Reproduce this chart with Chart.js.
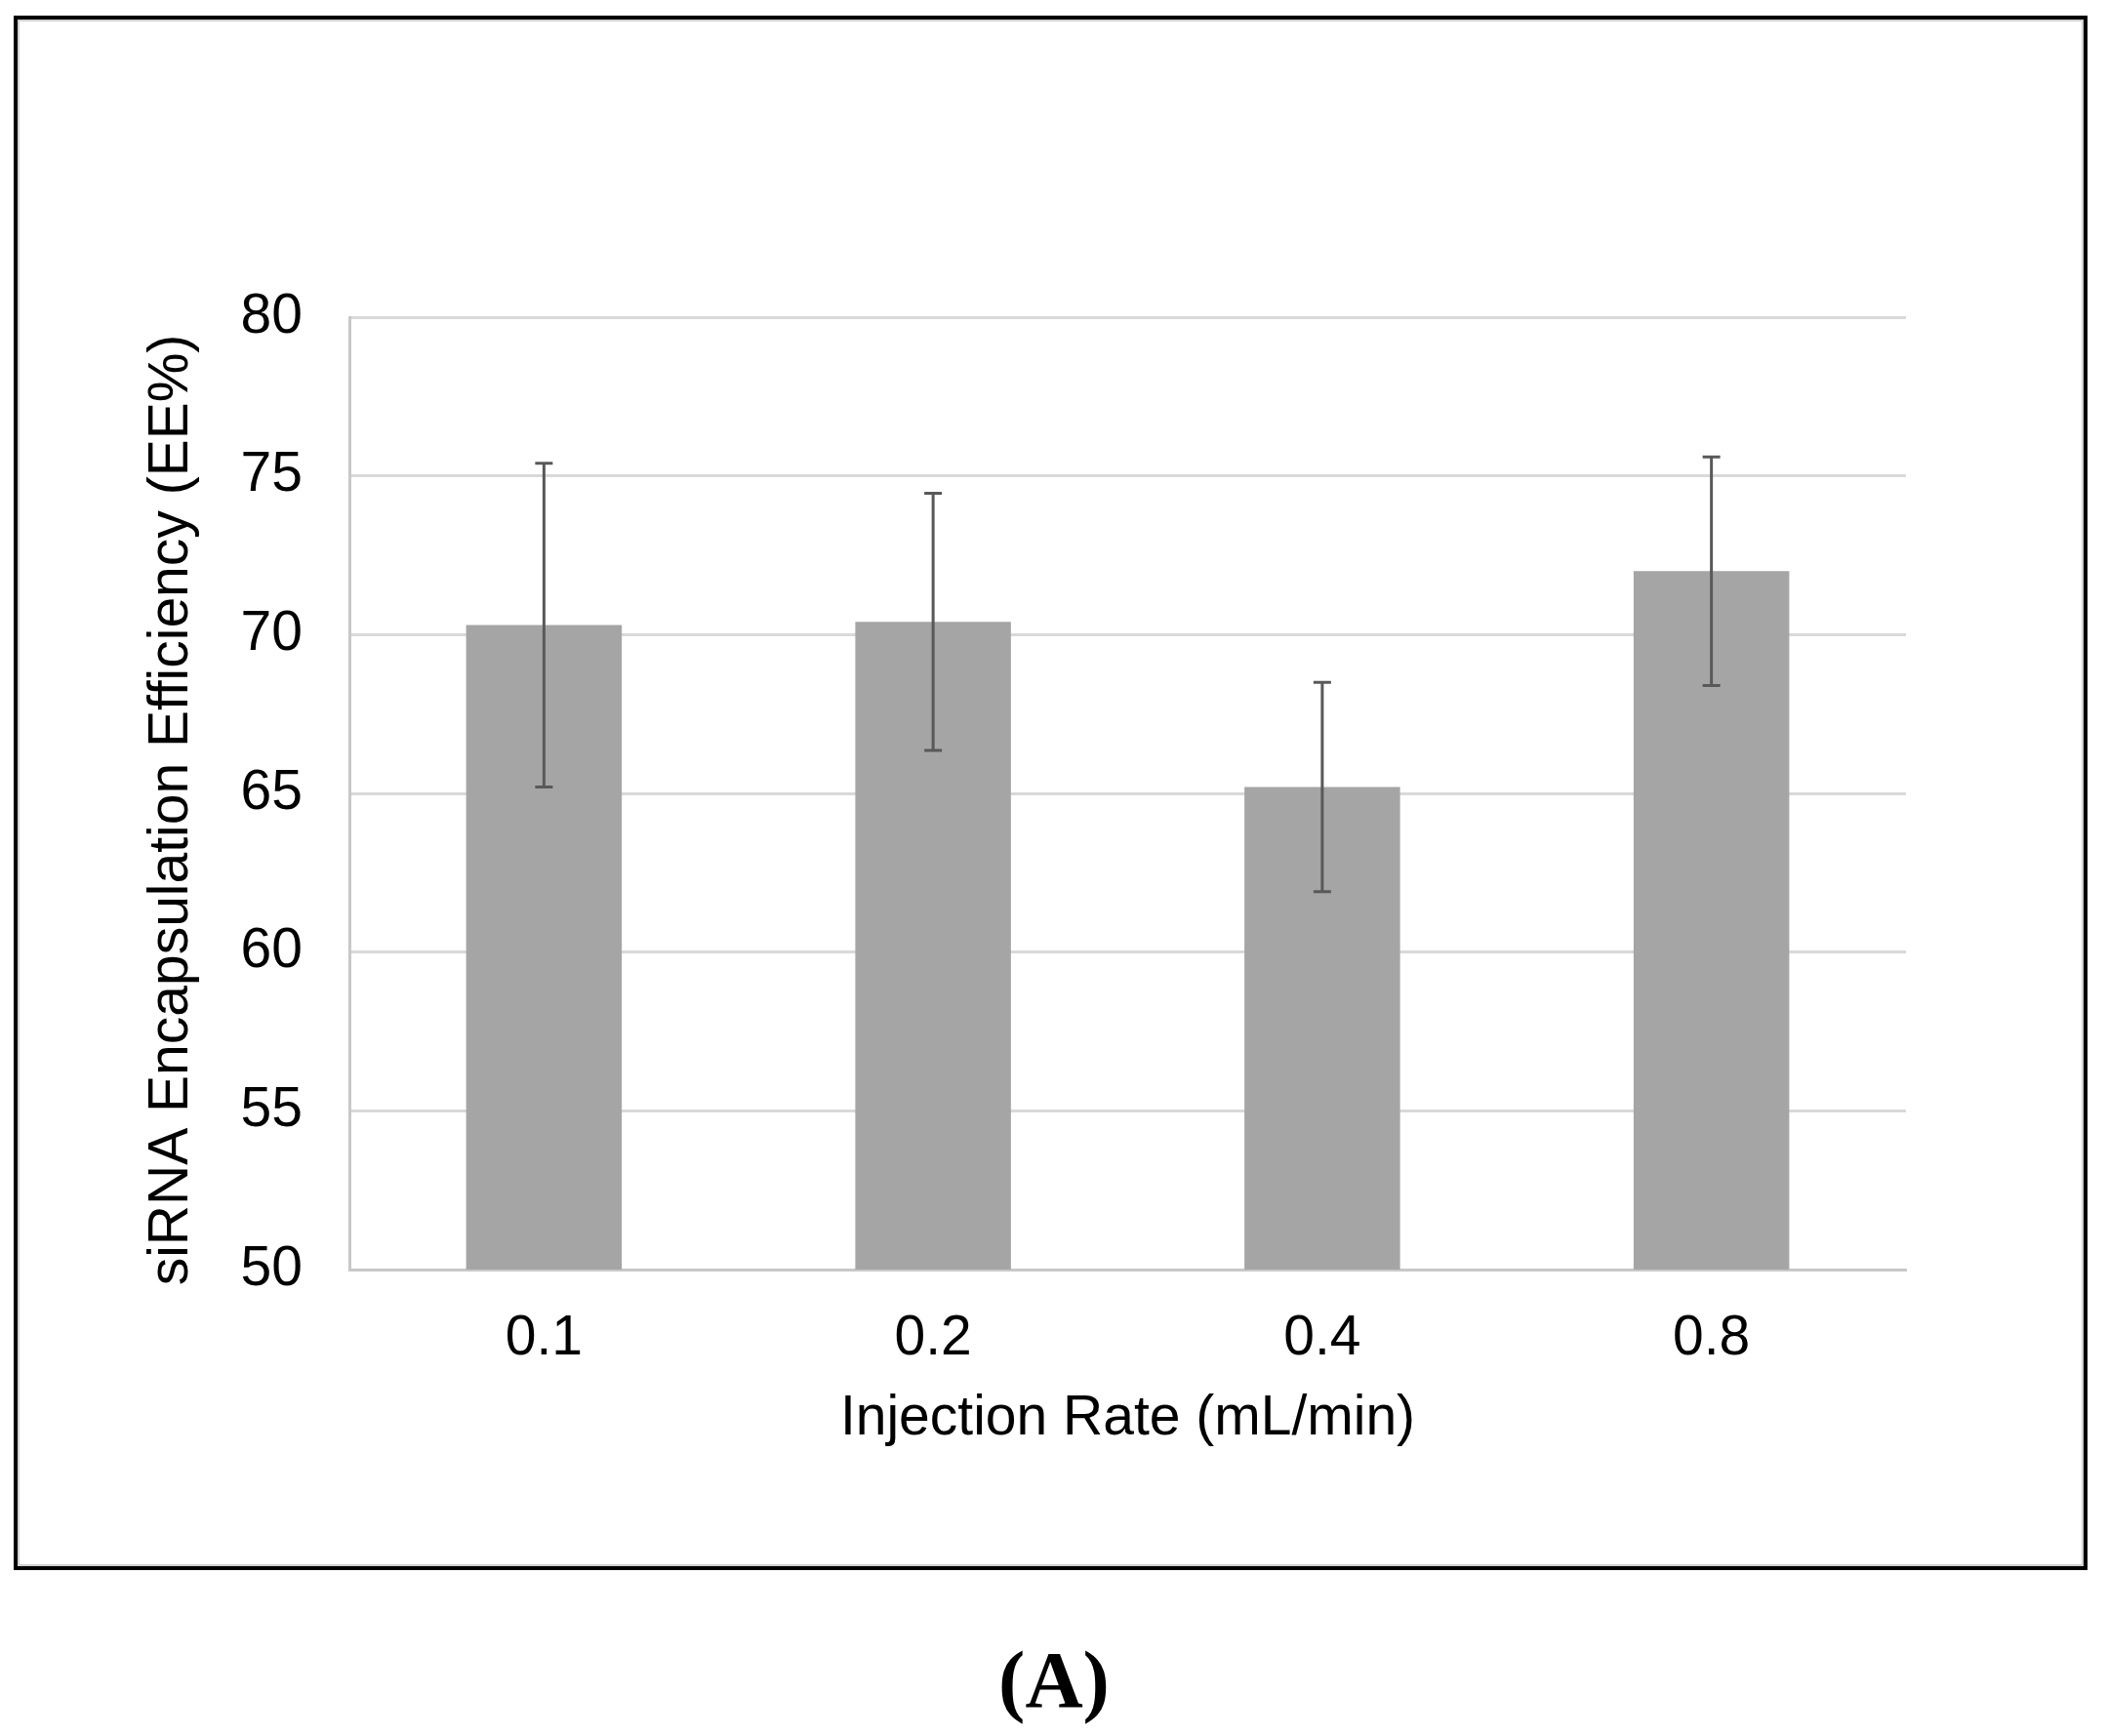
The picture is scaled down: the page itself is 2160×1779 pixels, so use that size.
<!DOCTYPE html>
<html><head><meta charset="utf-8">
<script src="https://cdn.jsdelivr.net/npm/chart.js@4.4.1/dist/chart.umd.min.js"></script>
<style>
html,body{margin:0;padding:0;background:#fff;}
#page{position:relative;width:2160px;height:1779px;overflow:hidden;background:#fff;}
#frame{position:absolute;left:14px;top:16px;width:2125px;height:1593px;box-sizing:border-box;border:4px solid #000;box-shadow:inset 0 0 0 2px #cfcfcf;}
#wrap{position:absolute;left:0;top:0;width:2160px;height:1779px;}
#label{position:absolute;left:980px;width:200px;top:1681px;text-align:center;font:bold 82px 'Liberation Serif','Times New Roman',serif;color:#000;line-height:1;}
</style></head>
<body><div id="page"><div id="frame"></div><div id="wrap"><canvas id="c" width="2160" height="1779"></canvas></div><div id="label">(A)</div></div>
<script>
const categories = ['0.1', '0.2', '0.4', '0.8'];
const encapsulationEfficiency = [70.3, 70.4, 65.2, 72.0];
const errorValues = [5.1, 4.05, 3.3, 3.6];
const yTicks = [50, 55, 60, 65, 70, 75, 80];
const xAxisTitle = 'Injection Rate (mL/min)';
const yAxisTitle = 'siRNA Encapsulation Efficiency (EE%)';

const FONT = "'Liberation Sans', Arial, sans-serif";

const errorBarPlugin = {
  id: 'errorBars',
  afterDatasetsDraw(chart) {
    const ctx = chart.ctx;
    const meta = chart.getDatasetMeta(0);
    const y = chart.scales.y;
    ctx.save();
    ctx.strokeStyle = '#595959';
    ctx.lineWidth = 3;
    meta.data.forEach((bar, i) => {
      const v = encapsulationEfficiency[i], e = errorValues[i];
      const yt = y.getPixelForValue(v + e), yb = y.getPixelForValue(v - e);
      const x = bar.x;
      ctx.beginPath();
      ctx.moveTo(x, yt); ctx.lineTo(x, yb);
      ctx.moveTo(x - 9, yt); ctx.lineTo(x + 9, yt);
      ctx.moveTo(x - 9, yb); ctx.lineTo(x + 9, yb);
      ctx.stroke();
    });
    ctx.restore();
  }
};

const yTitlePlugin = {
  id: 'yTitle',
  afterDraw(chart) {
    const ctx = chart.ctx;
    ctx.save();
    ctx.translate(176, 830);
    ctx.rotate(-Math.PI / 2);
    ctx.textAlign = 'center';
    ctx.textBaseline = 'middle';
    ctx.fillStyle = '#000';
    ctx.font = '57px ' + FONT;
    ctx.fillText(yAxisTitle, 0, 0);
    ctx.restore();
  }
};

new Chart(document.getElementById('c'), {
  type: 'bar',
  data: {
    labels: categories,
    datasets: [{
      data: encapsulationEfficiency,
      backgroundColor: '#a5a5a5',
      borderWidth: 0,
      barPercentage: 0.4,
      categoryPercentage: 1.0
    }]
  },
  options: {
    responsive: false,
    animation: false,
    devicePixelRatio: 1,
    layout: { padding: { left: 0, right: 207, top: 325, bottom: 0 } },
    plugins: { legend: { display: false }, tooltip: { enabled: false } },
    scales: {
      x: {
        grid: { display: false, drawTicks: false },
        border: { display: true, color: '#c8c8c8', width: 3 },
        ticks: { font: { family: FONT, size: 57 }, color: '#000', padding: 37 },
        title: { display: true, text: xAxisTitle, color: '#000', font: { family: FONT, size: 57 }, padding: { top: 0, bottom: 291 } },
        afterFit(s) { s.height = 1779 - 1301; }
      },
      y: {
        min: 50, max: 80,
        afterBuildTicks(s) { s.ticks = yTicks.map(v => ({ value: v })); },
        ticks: { font: { family: FONT, size: 57 }, color: '#000', padding: 48 },
        grid: { color: '#d9d9d9', lineWidth: 3, drawTicks: false },
        border: { color: '#c8c8c8', width: 3 },
        afterFit(s) { s.width = 358; }
      }
    }
  },
  plugins: [errorBarPlugin, yTitlePlugin]
});
</script>
</body></html>
